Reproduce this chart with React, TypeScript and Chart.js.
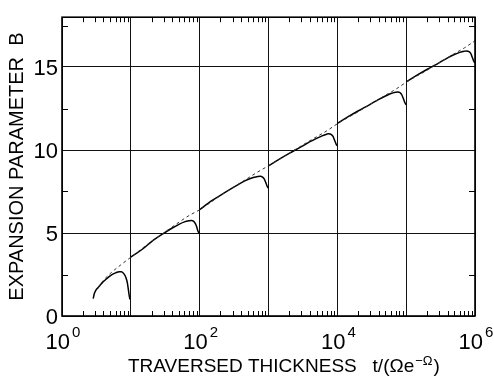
import React, { useEffect, useRef } from "react";
import { Chart, registerables } from "chart.js";

Chart.register(...registerables);

const FONT = "'Liberation Sans', Arial, Helvetica, sans-serif";

// Asymptotic (dashed) curve
const dashT = [3.3, 4, 5, 7, 10, 20, 30, 50, 70, 100, 200, 300, 500, 700, 1e3, 2e3, 3e3, 5e3, 7e3, 1e4, 2e4, 3e4, 5e4, 7e4, 1e5, 2e5, 3e5, 5e5, 7e5, 1e6];
const dashB = [1.7, 2.15, 2.55, 3.05, 3.54, 4.5, 5.0, 5.65, 6.05, 6.4, 7.25, 7.72, 8.3, 8.68, 9.05, 9.8, 10.25, 10.8, 11.15, 11.58, 12.3, 12.75, 13.3, 13.65, 14.08, 14.8, 15.25, 15.8, 16.15, 16.58];

// Solid segments
const seg1T = [2.84, 2.95, 3.1, 3.36, 3.8, 4.2, 5.25, 6.0, 6.8, 7.3, 8.0, 8.5, 8.9, 9.2, 9.45, 9.7];
const seg1B = [1.05, 1.35, 1.55, 1.72, 1.98, 2.15, 2.48, 2.6, 2.67, 2.67, 2.52, 2.3, 2.0, 1.6, 1.25, 1.0];
const seg2T = [10, 15, 20, 30, 40, 50, 60, 70, 76, 82, 87, 90, 93, 96, 100];
const seg2B = [3.54, 4.05, 4.48, 4.98, 5.3, 5.52, 5.67, 5.74, 5.76, 5.7, 5.55, 5.4, 5.2, 5.05, 4.95];
const seg3T = [100, 150, 200, 300, 400, 500, 600, 700, 760, 820, 870, 900, 930, 960, 1000];
const seg3B = [6.4, 6.95, 7.27, 7.72, 8.02, 8.22, 8.34, 8.41, 8.42, 8.37, 8.25, 8.1, 7.95, 7.8, 7.7];
const seg4T = [1e3, 1.5e3, 2e3, 3e3, 4e3, 5e3, 6e3, 7e3, 7.5e3, 8.2e3, 8.7e3, 9e3, 9.3e3, 9.6e3, 1e4];
const seg4B = [9.05, 9.5, 9.8, 10.2, 10.5, 10.7, 10.85, 10.95, 10.98, 10.93, 10.8, 10.65, 10.5, 10.35, 10.25];
const seg5T = [1e4, 1.5e4, 2e4, 3e4, 4e4, 5e4, 6e4, 7e4, 7.5e4, 8.2e4, 8.7e4, 9e4, 9.3e4, 9.6e4, 1e5];
const seg5B = [11.6, 12.05, 12.35, 12.75, 13.05, 13.25, 13.4, 13.48, 13.5, 13.45, 13.3, 13.15, 13.0, 12.85, 12.72];
const seg6T = [1e5, 1.5e5, 2e5, 3e5, 4e5, 5e5, 6e5, 7e5, 7.5e5, 8.2e5, 8.7e5, 9e5, 9.3e5, 9.6e5, 1e6];
const seg6B = [14.1, 14.55, 14.85, 15.25, 15.55, 15.75, 15.88, 15.95, 15.97, 15.92, 15.8, 15.65, 15.5, 15.35, 15.24];

const xDecades = [1, 10, 100, 1e3, 1e4, 1e5, 1e6];
const xLabelValues = [1, 100, 1e4, 1e6];
const xLabelBase = "10";
const xLabelExps = ["0", "2", "4", "6"];
const yTicks = [0, 5, 10, 15];
const yMinorTicks = [2.5, 7.5, 12.5, 17.5];
const xMinorMultipliers = [2, 3, 4, 5, 6, 7, 8, 9];

const yTitle = "EXPANSION PARAMETER  B";
const xTitleMain = "TRAVERSED THICKNESS   t/(\u03A9e";
const xTitleSup = "\u2212\u03A9";
const xTitleEnd = ")";

const toPts = (t: number[], b: number[]) => t.map((v, i) => ({ x: v, y: b[i] }));

const decorPlugin = {
  id: "decor",
  afterDraw(chart: any) {
    const { ctx, chartArea } = chart;
    const { left, right, top, bottom } = chartArea;
    const xs = chart.scales.x;
    const ys = chart.scales.y;
    ctx.save();
    ctx.strokeStyle = "#000";
    ctx.lineWidth = 1;
    ctx.beginPath();
    for (let d = 0; d < 6; d++) {
      for (const m of xMinorMultipliers) {
        const px = Math.round(xs.getPixelForValue(m * Math.pow(10, d))) + 0.5;
        ctx.moveTo(px, bottom);
        ctx.lineTo(px, bottom - 5);
        ctx.moveTo(px, top);
        ctx.lineTo(px, top + 5);
      }
    }
    for (const v of yMinorTicks) {
      const py = Math.round(ys.getPixelForValue(v)) + 0.5;
      ctx.moveTo(left, py);
      ctx.lineTo(left + 6, py);
      ctx.moveTo(right, py);
      ctx.lineTo(right - 6, py);
    }
    ctx.stroke();
    ctx.lineWidth = 1.6;
    ctx.strokeRect(left, top, right - left, bottom - top);
    ctx.fillStyle = "#000";
    ctx.textBaseline = "alphabetic";
    ctx.textAlign = "left";
    xLabelValues.forEach((v, i) => {
      const px = xs.getPixelForValue(v);
      ctx.font = `22px ${FONT}`;
      const wb = ctx.measureText(xLabelBase).width;
      ctx.font = `15px ${FONT}`;
      const we = ctx.measureText(xLabelExps[i]).width;
      const x0 = px - (wb + we + 2) / 2 + 1;
      ctx.font = `22px ${FONT}`;
      ctx.fillText(xLabelBase, x0, bottom + 33);
      ctx.font = `15px ${FONT}`;
      ctx.fillText(xLabelExps[i], x0 + wb + 2, bottom + 21);
    });
    ctx.font = `19px ${FONT}`;
    const tx = left + 66;
    const ty = bottom + 56;
    ctx.fillText(xTitleMain, tx, ty);
    const w1 = ctx.measureText(xTitleMain).width;
    ctx.font = `13px ${FONT}`;
    ctx.fillText(xTitleSup, tx + w1 + 1, ty - 7);
    const w2 = ctx.measureText(xTitleSup).width;
    ctx.font = `19px ${FONT}`;
    ctx.fillText(xTitleEnd, tx + w1 + w2 + 2, ty);
    ctx.restore();
  },
};

export default function App() {
  const ref = useRef<HTMLCanvasElement | null>(null);
  useEffect(() => {
    if (!ref.current) return;
    const segs = [
      [seg1T, seg1B],
      [seg2T, seg2B],
      [seg3T, seg3B],
      [seg4T, seg4B],
      [seg5T, seg5B],
      [seg6T, seg6B],
    ];
    const chart = new Chart(ref.current, {
      type: "scatter",
      data: {
        datasets: [
          {
            label: "asymptote",
            data: toPts(dashT, dashB),
            borderColor: "#333",
            borderWidth: 1,
            borderDash: [3, 3],
            pointRadius: 0,
            showLine: true,
            cubicInterpolationMode: "monotone",
          } as any,
          ...segs.map((s, i) => ({
            label: `segment ${i + 1}`,
            data: toPts(s[0], s[1]),
            borderColor: "#000",
            borderWidth: 1.5,
            pointRadius: 0,
            showLine: true,
            cubicInterpolationMode: "monotone",
          })),
        ],
      },
      options: {
        responsive: false,
        animation: false,
        layout: { padding: { top: 7, right: 19, left: 0, bottom: 0 } },
        plugins: { legend: { display: false }, tooltip: { enabled: false } },
        scales: {
          x: {
            type: "logarithmic",
            min: 1,
            max: 1e6,
            afterBuildTicks: (s: any) => {
              s.ticks = xDecades.map((v) => ({ value: v }));
            },
            ticks: { display: false },
            grid: { color: "#111", lineWidth: 1, drawTicks: false },
            border: { display: false },
            afterFit: (s: any) => {
              s.height = 65;
            },
          },
          y: {
            type: "linear",
            min: 0,
            max: 18,
            afterBuildTicks: (s: any) => {
              s.ticks = yTicks.map((v) => ({ value: v }));
            },
            ticks: {
              color: "#000",
              font: { family: FONT, size: 22 },
              padding: 4,
              labelOffset: 2,
              callback: (v: any) => String(v),
            },
            grid: { color: "#111", lineWidth: 1, drawTicks: false },
            border: { display: false },
            title: {
              display: true,
              text: yTitle,
              color: "#000",
              font: { family: FONT, size: 20 },
              padding: { top: 5, bottom: 0 },
            },
            afterFit: (s: any) => {
              s.width = 62;
            },
          },
        },
      },
      plugins: [decorPlugin],
    });
    return () => chart.destroy();
  }, []);
  return (
    <div style={{ position: "fixed", left: 0, top: 0, width: 494, height: 381, background: "#fff" }}>
      <canvas ref={ref} width={494} height={381} style={{ display: "block" }} />
    </div>
  );
}
